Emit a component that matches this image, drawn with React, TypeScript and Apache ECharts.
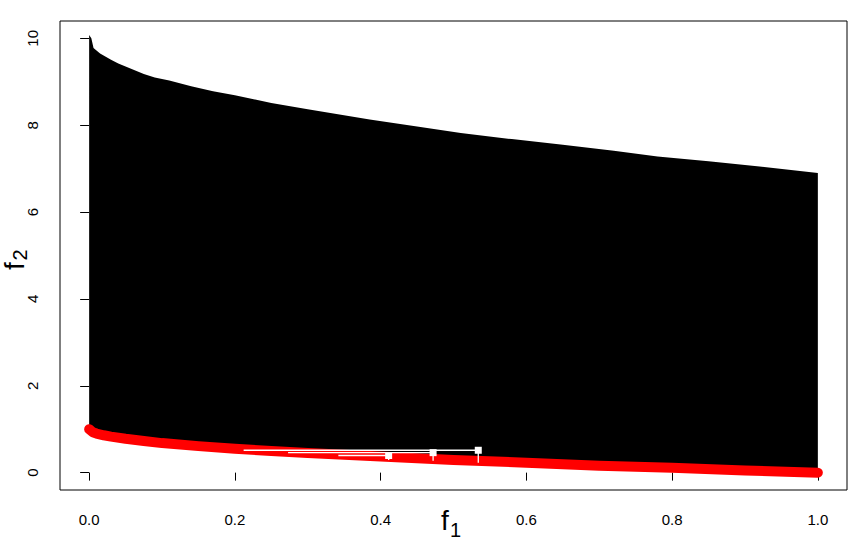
import React, { useEffect, useRef } from "react";
import * as echarts from "echarts";

// Upper boundary of the black (dominated) region
const upperF1 = [0, 0.003, 0.006, 0.015, 0.03, 0.04, 0.05, 0.075, 0.09, 0.11, 0.14, 0.17, 0.2, 0.25, 0.3, 0.385, 0.45, 0.51, 0.58, 0.65, 0.72, 0.78, 0.85, 0.92, 1.0];
const upperF2 = [10.08, 10.0, 9.78, 9.65, 9.51, 9.42, 9.35, 9.18, 9.1, 9.03, 8.9, 8.78, 8.69, 8.51, 8.37, 8.13, 7.97, 7.82, 7.68, 7.55, 7.41, 7.28, 7.17, 7.05, 6.9];

// Red front (lower boundary)
const frontF1 = [0, 0.005, 0.01, 0.02, 0.03, 0.05, 0.075, 0.1, 0.15, 0.2, 0.25, 0.3, 0.4, 0.5, 0.6, 0.7, 0.8, 0.9, 1.0];
const frontF2 = [1.0, 0.93, 0.9, 0.86, 0.83, 0.78, 0.73, 0.68, 0.61, 0.55, 0.5, 0.45, 0.37, 0.29, 0.23, 0.16, 0.11, 0.05, 0.0];

// White markers with left / down bars
const markerF1 = [0.411, 0.472, 0.534];
const markerF2 = [0.395, 0.46, 0.515];
const markerLeftF1 = [0.342, 0.273, 0.212];
const markerLowF2 = [0.29, 0.275, 0.23];

const xTicks = [0, 0.2, 0.4, 0.6, 0.8, 1.0];
const yTicks = [0, 2, 4, 6, 8, 10];

const FONT = '"Liberation Sans", Arial, sans-serif';

export default function App() {
  const ref = useRef<HTMLDivElement>(null);
  useEffect(() => {
    if (!ref.current) return;
    const chart = echarts.init(ref.current, null, { renderer: "svg" });
    const option: any = {
      animation: false,
      backgroundColor: "#ffffff",
      grid: {
        left: 60,
        top: 21,
        width: 787,
        height: 469,
        show: true,
        borderColor: "#000",
        borderWidth: 1,
        backgroundColor: "#fff",
      },
      xAxis: {
        type: "value",
        min: -0.04,
        max: 1.04,
        splitLine: { show: false },
        axisLine: { show: false },
        axisTick: { show: true, inside: false, length: 8, customValues: xTicks, lineStyle: { color: "#000", width: 1 } },
        axisLabel: {
          customValues: xTicks,
          formatter: (v: number) => v.toFixed(1),
          margin: 22,
          fontSize: 15,
          fontFamily: FONT,
          color: "#000",
        },
      },
      yAxis: {
        type: "value",
        min: -0.4,
        max: 10.4,
        splitLine: { show: false },
        axisLine: { show: false },
        axisTick: { show: true, inside: false, length: 9, customValues: yTicks, lineStyle: { color: "#000", width: 1 } },
        axisLabel: {
          customValues: yTicks,
          formatter: (v: number) => String(Math.round(v)),
          rotate: 90,
          margin: 20,
          fontSize: 15,
          fontFamily: FONT,
          color: "#000",
        },
      },
      graphic: [
        {
          type: "text",
          x: 441,
          y: 520,
          style: { text: "f", fontSize: 28, fontFamily: FONT, fill: "#000", align: "left", verticalAlign: "middle" },
        },
        {
          type: "text",
          x: 450,
          y: 530,
          style: { text: "1", fontSize: 20, fontFamily: FONT, fill: "#000", align: "left", verticalAlign: "middle" },
        },
        {
          type: "group",
          x: 24,
          y: 270,
          rotation: Math.PI / 2,
          children: [
            {
              type: "text",
              x: 0,
              y: -10,
              style: { text: "f", fontSize: 28, fontFamily: FONT, fill: "#000", align: "left", verticalAlign: "middle" },
            },
            {
              type: "text",
              x: 9.5,
              y: -4,
              style: { text: "2", fontSize: 20, fontFamily: FONT, fill: "#000", align: "left", verticalAlign: "middle" },
            },
          ],
        },
      ],
      series: [
        {
          type: "custom",
          silent: true,
          z: 1,
          data: [[0, 0]],
          renderItem: (_params: any, api: any) => {
            const pts: number[][] = [];
            for (let i = 0; i < upperF1.length; i++) pts.push(api.coord([upperF1[i], upperF2[i]]));
            for (let i = frontF1.length - 1; i >= 0; i--) pts.push(api.coord([frontF1[i], frontF2[i]]));
            return { type: "polygon", shape: { points: pts }, style: { fill: "#000" } };
          },
        },
        {
          type: "line",
          z: 2,
          silent: true,
          symbol: "none",
          data: frontF1.map((x, i) => [x, frontF2[i]]),
          lineStyle: { color: "#ff0000", width: 10, cap: "round", join: "round" },
        },
        {
          type: "custom",
          z: 3,
          silent: true,
          encode: { x: 0, y: 1 },
          data: markerF1.map((x, i) => [x, markerF2[i], markerLeftF1[i], markerLowF2[i]]),
          renderItem: (_params: any, api: any) => {
            const x = api.value(0);
            const y = api.value(1);
            const xl = api.value(2);
            const yl = api.value(3);
            const p = api.coord([x, y]);
            const pl = api.coord([xl, y]);
            const pd = api.coord([x, yl]);
            return {
              type: "group",
              children: [
                { type: "line", shape: { x1: pl[0], y1: p[1], x2: p[0], y2: p[1] }, style: { stroke: "#fff", lineWidth: 1.3 } },
                { type: "line", shape: { x1: p[0], y1: p[1], x2: p[0], y2: pd[1] }, style: { stroke: "#fff", lineWidth: 1.3 } },
                { type: "rect", shape: { x: p[0] - 3.5, y: p[1] - 3.5, width: 7, height: 7 }, style: { fill: "#fff" } },
              ],
            };
          },
        },
      ],
    };
    chart.setOption(option);
    return () => chart.dispose();
  }, []);
  return <div ref={ref} style={{ position: "absolute", left: 0, top: 0, width: 866, height: 551 }} />;
}
